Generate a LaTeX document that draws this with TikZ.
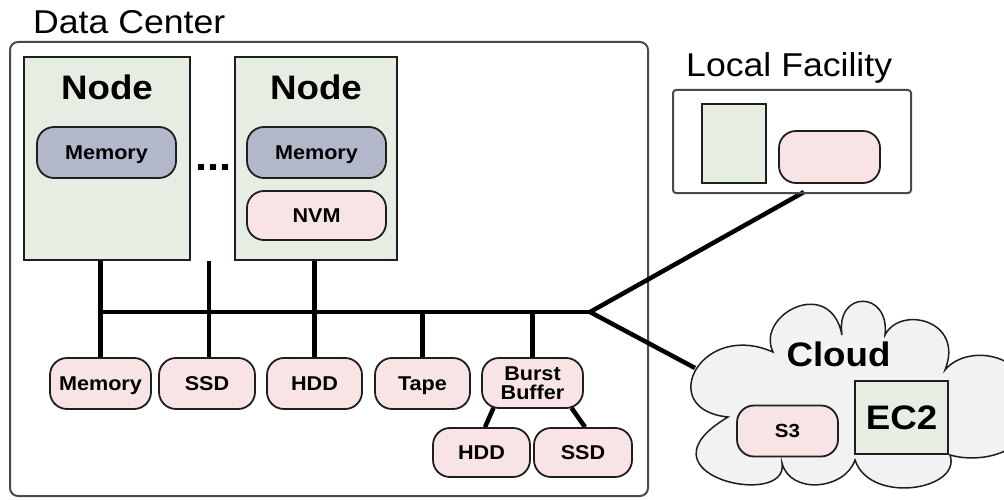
\documentclass[tikz,border=0pt]{standalone}
\usepackage{fontspec}
\setmainfont{Liberation Sans}[FakeStretch=1.08]
\pgfdeclarelayer{base}
\pgfdeclarelayer{links}
\pgfsetlayers{base,links,main}
\definecolor{strokec}{HTML}{1E1E1E}
\definecolor{framegray}{HTML}{4A4A4A}
\definecolor{hostfill}{HTML}{E6EEE3}
\definecolor{memfill}{HTML}{B3B7CA}
\definecolor{pinkfill}{HTML}{F9E4E5}
\definecolor{cloudfill}{HTML}{F2F2F2}
\begin{document}
\begin{tikzpicture}[x=1pt,y=-1pt,
  host/.style={draw=strokec, line width=2pt, fill=hostfill, inner sep=0pt},
  pill/.style={draw=strokec, line width=1.8pt, rounded corners=17pt, inner sep=0pt,
    font=\fontsize{20}{18.5}\selectfont\bfseries, minimum height=51pt},
  capmid/.style={text height=#1, text depth=0pt},
  capmid/.default=14.4pt,
  frame/.style={draw=framegray, line width=2pt, inner sep=0pt},
  link/.style={line width=4.5pt, black},
  title/.style={font=\fontsize{33}{36}\selectfont, inner sep=0pt},
  big/.style={font=\fontsize{34}{36}\selectfont\bfseries, inner sep=0pt},
  cloudshape/.style={draw=strokec, line width=1.5pt, fill=cloudfill}]
\useasboundingbox (0,0) rectangle (1004,500);
\clip (0,0) rectangle (1004,500);

% data center frame
\begin{pgfonlayer}{base}
  \node[frame, rounded corners=8pt, minimum width=638pt, minimum height=454pt] (dc) at (329,269) {};
\end{pgfonlayer}
\node[title, anchor=base west] (dct) at (33,34) {Data Center};

% compute nodes
\node[host, minimum width=166pt, minimum height=203pt] (n1) at (107,158.5) {};
\node[big, anchor=base] (n1t) at (107,100) {Node};
\node[pill, fill=memfill, minimum width=139pt, capmid] (m1) at (106.5,152.5) {Memory};
\node[host, minimum width=162pt, minimum height=203pt] (n2) at (316,158.5) {};
\node[big, anchor=base] (n2t) at (316,100) {Node};
\node[pill, fill=memfill, minimum width=139pt, capmid] (m2) at (316.5,152.5) {Memory};
\node[pill, fill=pinkfill, minimum width=139pt, minimum height=49pt, capmid] (nvm) at (316.5,215.5) {NVM};
\node[font=\fontsize{40}{40}\selectfont\bfseries, anchor=base, inner sep=0pt] (dots) at (213.5,171) {...};

% shared storage
\node[pill, fill=pinkfill, minimum width=101pt, capmid] (memB) at (100.5,383.5) {Memory};
\node[pill, fill=pinkfill, minimum width=96pt, capmid] (ssd) at (207,383.5) {SSD};
\node[pill, fill=pinkfill, minimum width=95pt, capmid] (hdd) at (314.5,383.5) {HDD};
\node[pill, fill=pinkfill, minimum width=95pt, capmid] (tape) at (422.5,383.5) {Tape};
\node[pill, fill=pinkfill, minimum width=101pt, minimum height=50pt, align=center] (bb) at (532.5,383) {Burst\\Buffer};
\node[pill, fill=pinkfill, minimum width=97pt, minimum height=49pt, capmid] (hdd2) at (481.5,452.5) {HDD};
\node[pill, fill=pinkfill, minimum width=98pt, minimum height=49pt, capmid] (ssd2) at (583,452.5) {SSD};

% local facility
\node[title, anchor=base west] (lft) at (686,77) {Local Facility};
\node[frame, rounded corners=3pt, minimum width=238pt, minimum height=103pt] (lf) at (792,141.5) {};
\node[host, minimum width=64pt, minimum height=79pt] (lfhost) at (734,143.5) {};
\node[pill, fill=pinkfill, minimum width=101pt, minimum height=52pt] (lfstore) at (829.5,157) {};

% cloud
\path[cloudshape] (728,417)
  .. controls (655,410) and (700,320) .. (773,352)
  .. controls (755,315) and (830,275) .. (842,335)
  .. controls (835,290) and (890,290) .. (885,335)
  .. controls (900,305) and (965,320) .. (945,370)
  .. controls (965,345) and (1025,350) .. (1030,400)
  .. controls (1040,450) and (985,465) .. (950,455)
  .. controls (962,490) and (870,505) .. (855,460)
  .. controls (845,490) and (790,495) .. (782,463)
  .. controls (790,510) and (630,475) .. cycle;
\node[big, anchor=base] (cloudt) at (838.5,366.5) {Cloud};
\node[pill, fill=pinkfill, minimum width=101pt, font=\fontsize{19}{19}\selectfont\bfseries, capmid=13.6pt] (s3) at (787.5,431) {S3};
\node[host, minimum width=93pt, minimum height=73pt, font=\fontsize{34}{36}\selectfont\bfseries, capmid=24.3pt] (ec2) at (901.5,417.5) {EC2};

% interconnect
\coordinate (hub) at (590,312);
\coordinate (gap) at (209,261);
\coordinate (lfport) at (804,192);
\coordinate (cloudport) at (695,368);
\begin{pgfonlayer}{links}
  \draw[link] (memB.north |- hub) -- (hub);
  \draw[link] (n1.south -| memB.north) -- (memB.north);
  \draw[link] (gap) -- (gap |- ssd.north);
  \draw[link] (n2.south -| hdd.north) -- (hdd.north);
  \draw[link] (tape.north |- hub) -- (tape.north);
  \draw[link] (bb.north |- hub) -- (bb.north);
  \draw[link] (hub) -- (lfport);
  \draw[link] (hub) -- (cloudport);
  \draw[link] ([xshift=-39pt,yshift=1pt]bb.south) -- ([xshift=3.5pt]hdd2.north);
  \draw[link] ([xshift=39pt,yshift=1pt]bb.south) -- ([xshift=2pt]ssd2.north);
\end{pgfonlayer}
\end{tikzpicture}
\end{document}
